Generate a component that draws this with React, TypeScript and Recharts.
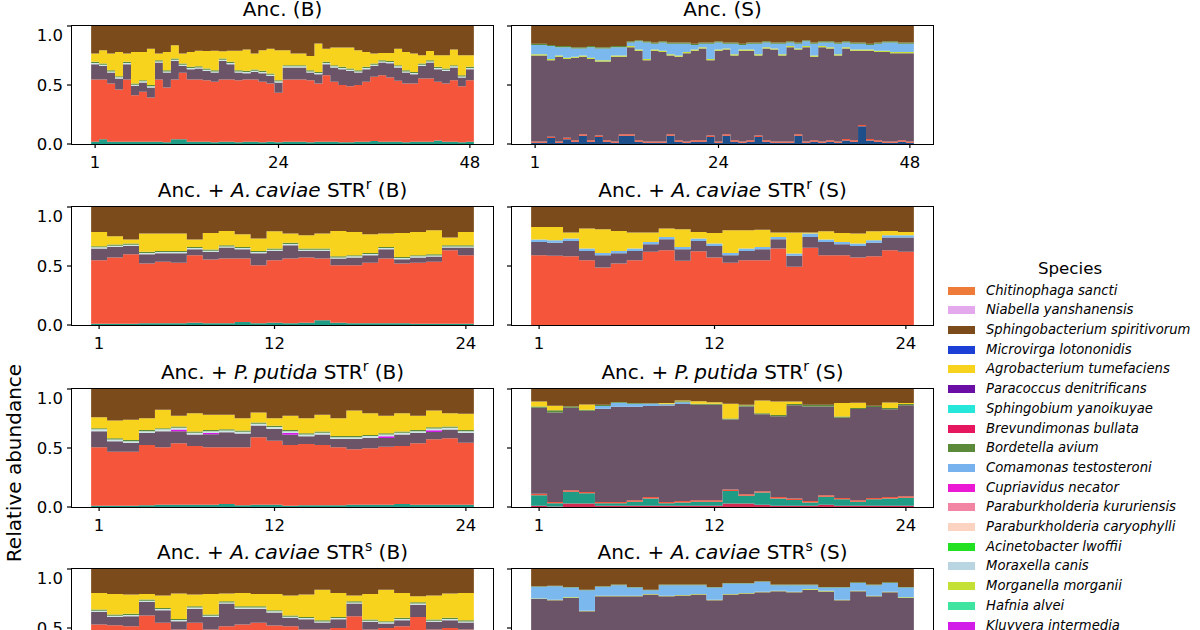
import React from "react";
import { AreaChart, Area, XAxis, YAxis } from "recharts";

const FONT = "'DejaVu Sans', sans-serif";

// legend entries, top to bottom
const SPECIES_NAMES = [
  "Chitinophaga sancti",
  "Niabella yanshanensis",
  "Sphingobacterium spiritivorum",
  "Microvirga lotononidis",
  "Agrobacterium tumefaciens",
  "Paracoccus denitrificans",
  "Sphingobium yanoikuyae",
  "Brevundimonas bullata",
  "Bordetella avium",
  "Comamonas testosteroni",
  "Cupriavidus necator",
  "Paraburkholderia kururiensis",
  "Paraburkholderia caryophylli",
  "Acinetobacter lwoffii",
  "Moraxella canis",
  "Morganella morganii",
  "Hafnia alvei",
  "Kluyvera intermedia",
];
const SPECIES_COLORS = [
  "#ef7b3a", "#e4a9ec", "#7b4b1c", "#1c40d6", "#f8d31e", "#6a0ea6",
  "#27e6da", "#e6175e", "#5b8a3a", "#78b2ee", "#ec19d4", "#f284a4",
  "#fbd3c0", "#22e022", "#b8d5e1", "#c4e034", "#3ee4a0", "#d21ce8",
];

// stacking order, bottom to top
const STACK_KEYS = [
  "otherNavy", "brevundimonas", "otherTeal", "otherRed", "otherMauve",
  "kluyvera", "morganella", "comamonas", "moraxella", "bordetella",
  "agrobacterium", "sphingobacterium",
];
const STACK_COLORS: Record<string, string> = {
  otherNavy: "#1d4f8a",
  brevundimonas: "#d22a52",
  otherTeal: "#1f9c85",
  otherRed: "#f4553b",
  otherMauve: "#6c5468",
  kluyvera: "#d21ce8",
  morganella: "#c8e03a",
  comamonas: "#7ab8ee",
  moraxella: "#cfe6e6",
  bordetella: "#5b8a3a",
  agrobacterium: "#f8d31e",
  sphingobacterium: "#7b4b1c",
};

// ---- Anc. (B), 48 replicates ----
const ancB_teal = [.02, .04, .02, .02, .02, .02, .02, .02, .02, .015, .04, .04, .02, .02, .02, .015, .02, .02, .015, .02, .02, .015, .02, .015, .02, .02, .02, .015, .02, .02, .02, .015, .015, .02, .02, .025, .02, .02, .02, .015, .02, .02, .02, .03, .02, .02, .015, .02];
const ancB_red = [.526, .506, .493, .442, .526, .394, .422, .374, .526, .464, .506, .563, .526, .526, .521, .512, .526, .526, .526, .526, .526, .512, .493, .419, .526, .526, .526, .526, .493, .563, .507, .484, .475, .479, .507, .544, .563, .543, .515, .498, .493, .535, .535, .497, .493, .521, .475, .521];
const ancB_mauve = [.13, .116, .092, .093, .13, .079, .079, .085, .144, .126, .158, .059, .088, .093, .078, .078, .158, .13, .064, .054, .065, .073, .064, .087, .102, .102, .102, .064, .078, .093, .121, .135, .129, .106, .107, .093, .107, .121, .113, .092, .078, .107, .135, .107, .106, .107, .073, .093];
const ancB_bordetella = [.01, .01, .01, .01, .01, .01, .01, .01, .01, .01, .01, .01, .01, .01, .01, .01, .01, .01, .01, .01, .01, .01, .01, .01, .01, .01, .01, .01, .01, .01, .01, .01, .01, .01, .01, .01, .01, .01, .01, .01, .01, .01, .01, .01, .01, .01, .01, .01];
const ancB_moraxella = [.01, .01, .01, .01, .01, .01, .01, .01, .01, .01, .01, .01, .01, .01, .01, .01, .01, .01, .01, .01, .01, .01, .01, .01, .01, .01, .01, .01, .01, .01, .01, .01, .01, .01, .01, .01, .01, .01, .01, .01, .01, .01, .01, .01, .01, .01, .01, .01];
const ancB_agro = [.07, .112, .141, .205, .07, .267, .239, .309, .056, .155, .113, .084, .126, .131, .149, .165, .061, .094, .165, .18, .135, .174, .211, .253, .126, .098, .098, .121, .24, .112, .149, .163, .178, .169, .126, .084, .062, .068, .14, .155, .155, .07, .079, .098, .113, .132, .169, .098];
const ancB_sphingo = [.234, .206, .234, .22, .234, .22, .22, .192, .234, .22, .163, .234, .22, .21, .212, .21, .215, .21, .21, .2, .234, .206, .192, .206, .206, .234, .234, .254, .149, .192, .183, .183, .183, .206, .22, .234, .228, .228, .192, .22, .234, .248, .211, .248, .248, .2, .248, .248];

// ---- Anc. (S), 48 replicates ----
const ancS_navy = [.01, .01, .05, .01, .04, .02, .07, .02, .06, .02, .01, .07, .07, .02, .01, .01, .01, .07, .02, .01, .02, .02, .06, .01, .07, .02, .01, .02, .06, .02, .01, .01, .01, .07, .01, .02, .01, .02, .01, .03, .02, .15, .03, .02, .01, .01, .02, .01];
const ancS_red = [.012, .012, .012, .012, .012, .012, .012, .012, .012, .012, .012, .012, .012, .012, .012, .012, .012, .012, .012, .012, .012, .012, .012, .012, .012, .012, .012, .012, .012, .012, .012, .012, .012, .012, .012, .012, .012, .012, .012, .012, .012, .012, .012, .012, .012, .012, .012, .012];
const ancS_mauve = [.728, .728, .648, .718, .668, .698, .658, .688, .628, .668, .718, .658, .738, .758, .688, .768, .758, .668, .708, .748, .758, .778, .638, .768, .718, .718, .768, .758, .678, .778, .778, .728, .798, .718, .798, .708, .798, .778, .728, .768, .758, .628, .748, .748, .758, .748, .738, .748];
const ancS_morganella = [.01, .01, .01, .01, .01, .01, .01, .01, .01, .01, .01, .01, .01, .01, .01, .01, .01, .01, .01, .01, .01, .01, .01, .01, .01, .01, .01, .01, .01, .01, .01, .01, .01, .01, .01, .01, .01, .01, .01, .01, .01, .01, .01, .01, .01, .01, .01, .01];
const ancS_comamonas = [.08, .08, .11, .07, .09, .07, .06, .09, .1, .1, .07, .07, .03, .07, .14, .05, .07, .09, .1, .07, .04, .03, .13, .06, .04, .09, .04, .05, .09, .04, .04, .09, .03, .04, .04, .1, .03, .04, .09, .04, .05, .05, .04, .06, .07, .08, .07, .07];
const ancS_bordetella = [.01, .01, .01, .01, .01, .01, .01, .01, .01, .01, .01, .01, .01, .01, .01, .01, .01, .01, .01, .01, .01, .01, .01, .01, .01, .01, .01, .01, .01, .01, .01, .01, .01, .01, .01, .01, .01, .01, .01, .01, .01, .01, .01, .01, .01, .01, .01, .01];
const ancS_sphingo = [.15, .15, .16, .17, .17, .18, .18, .17, .18, .18, .17, .17, .13, .12, .13, .14, .13, .14, .14, .14, .15, .14, .14, .13, .14, .14, .15, .14, .14, .13, .14, .14, .13, .14, .12, .14, .13, .13, .14, .13, .14, .14, .15, .14, .13, .13, .14, .14];

// ---- Anc. + A. caviae STRr (B), 24 replicates ----
const acrB_teal = [.01, .01, .01, .015, .015, .015, .02, .015, .015, .025, .015, .02, .015, .02, .04, .02, .015, .015, .015, .015, .01, .01, .01, .01];
const acrB_red = [.539, .562, .59, .506, .52, .512, .572, .54, .548, .538, .492, .529, .548, .552, .523, .487, .492, .512, .548, .506, .517, .525, .624, .582];
const acrB_mauve = [.099, .09, .07, .079, .073, .081, .05, .064, .093, .079, .101, .079, .113, .056, .065, .056, .065, .064, .079, .036, .045, .045, .022, .064];
const acrB_bordetella = [.01, .01, .01, .01, .01, .01, .01, .01, .01, .01, .01, .01, .01, .01, .01, .01, .01, .01, .01, .01, .01, .01, .01, .01];
const acrB_moraxella = [.01, .01, .01, .01, .01, .01, .01, .01, .01, .01, .01, .01, .01, .01, .01, .01, .01, .01, .01, .01, .01, .01, .01, .01];
const acrB_agro = [.121, .07, .034, .155, .147, .147, .062, .141, .121, .107, .104, .146, .079, .113, .127, .214, .197, .158, .113, .203, .197, .203, .065, .113];
const acrB_sphingo = [.211, .248, .276, .225, .225, .225, .276, .22, .203, .231, .268, .206, .225, .239, .225, .203, .211, .231, .225, .22, .211, .197, .259, .211];

// ---- Anc. + A. caviae STRr (S) ----
const acrS_red = [.592, .586, .583, .549, .487, .521, .549, .62, .634, .544, .625, .572, .527, .549, .549, .648, .493, .654, .592, .592, .572, .583, .634, .62];
const acrS_mauve = [.112, .112, .129, .079, .104, .087, .079, .064, .092, .098, .087, .098, .064, .079, .093, .078, .093, .091, .112, .092, .098, .115, .107, .121];
const acrS_comamonas = [.02, .02, .02, .02, .02, .02, .02, .02, .02, .02, .02, .02, .02, .02, .02, .02, .02, .03, .02, .02, .02, .02, .02, .02];
const acrS_agro = [.107, .113, .051, .169, .2, .169, .135, .079, .071, .149, .057, .09, .192, .155, .146, .037, .177, .008, .07, .076, .085, .076, .036, .028];
const acrS_sphingo = [.169, .169, .217, .183, .189, .203, .217, .217, .183, .189, .211, .22, .197, .197, .192, .217, .217, .217, .206, .22, .225, .206, .203, .211];

// ---- Anc. + P. putida STRr (B) ----
const ppB_teal = [.01, .01, .01, .015, .02, .02, .02, .02, .025, .015, .02, .02, .01, .015, .015, .015, .02, .02, .02, .025, .02, .02, .02, .02];
const ppB_red = [.496, .459, .459, .511, .486, .52, .497, .486, .481, .491, .571, .542, .516, .519, .511, .491, .469, .477, .491, .492, .52, .554, .562, .525];
const ppB_mauve = [.137, .088, .074, .102, .137, .102, .097, .11, .128, .117, .1, .101, .087, .066, .088, .071, .088, .089, .074, .097, .088, .062, .075, .083];
const ppB_kluyvera = [0, 0, 0, 0, 0, .015, 0, .012, 0, 0, 0, 0, .015, 0, 0, 0, 0, 0, .015, 0, 0, .015, 0, 0];
const ppB_bordetella = [.01, .01, .01, .01, .01, .01, .01, .01, .01, .01, .01, .01, .01, .01, .01, .01, .01, .01, .01, .01, .01, .01, .01, .01];
const ppB_moraxella = [.015, .015, .015, .015, .015, .015, .015, .015, .015, .015, .015, .015, .015, .015, .015, .015, .015, .015, .015, .015, .015, .015, .015, .015];
const ppB_agro = [.093, .151, .171, .1, .156, .091, .156, .128, .122, .105, .085, .065, .12, .128, .142, .151, .216, .184, .148, .156, .12, .142, .113, .137];
const ppB_sphingo = [.239, .267, .261, .247, .176, .227, .205, .219, .219, .247, .199, .247, .227, .247, .219, .247, .182, .205, .227, .205, .227, .182, .205, .21];

// ---- Anc. + P. putida STRr (S) ----
const ppS_brev = [.01, .005, .03, .03, .01, .01, .01, .01, .01, .01, .01, .01, .03, .03, .02, .01, .01, .01, .02, .01, .01, .01, .01, .01];
const ppS_teal = [.09, .026, .1, .086, .021, .021, .035, .063, .021, .029, .035, .035, .106, .066, .102, .063, .049, .029, .067, .055, .035, .055, .063, .069];
const ppS_red = [.012, .012, .012, .012, .012, .012, .012, .012, .012, .012, .012, .012, .012, .012, .012, .012, .012, .012, .012, .012, .012, .012, .012, .012];
const ppS_mauve = [.73, .757, .7, .687, .789, .807, .793, .77, .817, .821, .809, .809, .593, .744, .651, .685, .791, .801, .753, .679, .773, .771, .743, .771];
const ppS_comamonas = [0, 0, 0, 0, .024, .034, .026, .02, .01, .015, 0, 0, 0, 0, 0, 0, 0, 0, 0, 0, 0, 0, 0, 0];
const ppS_bordetella = [.01, .02, .01, .01, .01, .005, .005, .005, .005, .01, .01, .01, .01, .01, .01, .01, .01, .014, .014, .01, .01, .01, .01, .01];
const ppS_agro = [.043, .038, 0, .044, 0, 0, 0, 0, .006, .006, .02, .012, .124, .004, .108, .114, .023, 0, 0, .115, .043, 0, .047, .01];
const ppS_sphingo = [.105, .142, .148, .131, .134, .111, .119, .12, .119, .097, .104, .112, .125, .134, .097, .105, .105, .134, .134, .119, .117, .142, .115, .118];

// ---- Anc. + A. caviae STRs (B) ----
const acsB_teal = [.02, .02, .02, .02, .02, .02, .02, .02, .02, .02, .02, .02, .02, .02, .02, .02, .02, .02, .02, .02, .02, .02, .02, .02];
const acsB_red = [.51, .504, .495, .586, .524, .467, .524, .467, .495, .51, .524, .501, .495, .467, .467, .481, .58, .467, .481, .495, .574, .467, .481, .467];
const acsB_mauve = [.106, .07, .085, .115, .106, .07, .12, .107, .192, .134, .12, .11, .071, .087, .059, .073, .107, .065, .037, .051, .104, .065, .065, .059];
const acsB_bordetella = [.01, .01, .01, .01, .01, .01, .01, .01, .01, .01, .01, .01, .01, .01, .01, .01, .01, .01, .01, .01, .01, .01, .01, .01];
const acsB_moraxella = [.01, .01, .01, .01, .01, .01, .01, .01, .01, .01, .01, .01, .01, .01, .01, .01, .01, .01, .01, .01, .01, .01, .01, .01];
const acsB_agro = [.141, .175, .163, .048, .105, .215, .099, .175, .065, .113, .105, .138, .169, .189, .259, .203, .048, .217, .267, .211, .051, .203, .206, .231];
const acsB_sphingo = [.203, .211, .217, .211, .225, .208, .217, .211, .208, .203, .211, .211, .225, .217, .175, .203, .225, .211, .175, .203, .231, .225, .208, .203];

// ---- Anc. + A. caviae STRs (S) ----
const acsS_navy = [.02, .02, .02, .02, .02, .02, .02, .02, .02, .02, .02, .02, .02, .02, .02, .02, .02, .02, .02, .02, .02, .02, .02, .02];
const acsS_red = [.01, .01, .01, .01, .01, .01, .01, .01, .01, .01, .01, .01, .01, .01, .01, .01, .01, .01, .01, .01, .01, .01, .01, .01];
const acsS_mauve = [.716, .705, .725, .612, .739, .739, .739, .753, .739, .745, .753, .705, .753, .762, .773, .781, .773, .795, .78, .705, .781, .739, .773, .725];
const acsS_morganella = [.005, .005, .005, .005, .005, .005, .005, .005, .005, .005, .005, .005, .005, .005, .005, .005, .005, .005, .005, .005, .005, .005, .005, .005];
const acsS_comamonas = [.098, .114, .083, .173, .075, .089, .069, .032, .089, .083, .075, .103, .089, .08, .083, .047, .055, .033, .028, .103, .066, .089, .074, .083];
const acsS_bordetella = [.005, .005, .005, .005, .005, .005, .005, .005, .005, .005, .005, .005, .005, .005, .005, .005, .005, .005, .005, .005, .005, .005, .005, .005];
const acsS_sphingo = [.146, .141, .152, .175, .146, .132, .152, .175, .132, .132, .132, .152, .118, .118, .104, .132, .132, .132, .152, .152, .113, .132, .113, .152];

// panel geometry
const FRAME_W = 421;
const FRAME_H = 118;
const YW = 60;
const XH = 32;
const COL_LEFT = [72, 512];
const ROW_TOP = [26, 207, 389, 569];
const LINE_W = 1.2;

type Layers = Record<string, number[]>;

function Sup({ children }: { children: React.ReactNode }) {
  return (
    <span style={{ fontSize: "0.7em", position: "relative", top: "-0.55em" }}>
      {children}
    </span>
  );
}

function strTitle(genus: string, sup: string, side: string) {
  return (
    <>
      Anc. + <i>{genus}</i> STR<Sup>{sup}</Sup> ({side})
    </>
  );
}

const PANELS: { title: React.ReactNode; row: number; col: number; layers: Layers }[] = [
  {
    title: "Anc. (B)", row: 0, col: 0,
    layers: { otherTeal: ancB_teal, otherRed: ancB_red, otherMauve: ancB_mauve, moraxella: ancB_moraxella, bordetella: ancB_bordetella, agrobacterium: ancB_agro, sphingobacterium: ancB_sphingo },
  },
  {
    title: "Anc. (S)", row: 0, col: 1,
    layers: { otherNavy: ancS_navy, otherRed: ancS_red, otherMauve: ancS_mauve, morganella: ancS_morganella, comamonas: ancS_comamonas, bordetella: ancS_bordetella, sphingobacterium: ancS_sphingo },
  },
  {
    title: strTitle("A.\u2009caviae", "r", "B"), row: 1, col: 0,
    layers: { otherTeal: acrB_teal, otherRed: acrB_red, otherMauve: acrB_mauve, moraxella: acrB_moraxella, bordetella: acrB_bordetella, agrobacterium: acrB_agro, sphingobacterium: acrB_sphingo },
  },
  {
    title: strTitle("A.\u2009caviae", "r", "S"), row: 1, col: 1,
    layers: { otherRed: acrS_red, otherMauve: acrS_mauve, comamonas: acrS_comamonas, agrobacterium: acrS_agro, sphingobacterium: acrS_sphingo },
  },
  {
    title: strTitle("P.\u2009putida", "r", "B"), row: 2, col: 0,
    layers: { otherTeal: ppB_teal, otherRed: ppB_red, otherMauve: ppB_mauve, kluyvera: ppB_kluyvera, moraxella: ppB_moraxella, bordetella: ppB_bordetella, agrobacterium: ppB_agro, sphingobacterium: ppB_sphingo },
  },
  {
    title: strTitle("P.\u2009putida", "r", "S"), row: 2, col: 1,
    layers: { brevundimonas: ppS_brev, otherTeal: ppS_teal, otherRed: ppS_red, otherMauve: ppS_mauve, comamonas: ppS_comamonas, bordetella: ppS_bordetella, agrobacterium: ppS_agro, sphingobacterium: ppS_sphingo },
  },
  {
    title: strTitle("A.\u2009caviae", "s", "B"), row: 3, col: 0,
    layers: { otherTeal: acsB_teal, otherRed: acsB_red, otherMauve: acsB_mauve, moraxella: acsB_moraxella, bordetella: acsB_bordetella, agrobacterium: acsB_agro, sphingobacterium: acsB_sphingo },
  },
  {
    title: strTitle("A.\u2009caviae", "s", "S"), row: 3, col: 1,
    layers: { otherNavy: acsS_navy, otherRed: acsS_red, otherMauve: acsS_mauve, morganella: acsS_morganella, comamonas: acsS_comamonas, bordetella: acsS_bordetella, sphingobacterium: acsS_sphingo },
  },
];

// one row per replicate edge; the extra last row closes the final step
function buildRows(layers: Layers, n: number) {
  const rows: Record<string, number>[] = [];
  for (let i = 0; i <= n; i++) {
    const src = Math.min(i, n - 1);
    const row: Record<string, number> = { x: i + 0.5 };
    for (const k of STACK_KEYS) row[k] = layers[k] ? layers[k][src] : 0;
    rows.push(row);
  }
  return rows;
}

const tickLineStyle = { stroke: "#000", strokeWidth: LINE_W };
const tickStyle = { fill: "#000", fontSize: 16.5, fontFamily: FONT };

function Panel({ title, row, col, layers }: { title: React.ReactNode; row: number; col: number; layers: Layers }) {
  const left = COL_LEFT[col];
  const top = ROW_TOP[row];
  const n = Object.values(layers)[0].length;
  const rows = buildRows(layers, n);
  const pad = n * 0.05;
  const domain: [number, number] = [0.5 - pad, n + 0.5 + pad];
  const xTicks = n === 48 ? [1, 24, 48] : [1, 12, 24];
  const keys = STACK_KEYS.filter((k) => layers[k]);

  return (
    <>
      <div
        style={{
          position: "absolute",
          left,
          top: top - 27,
          width: FRAME_W,
          textAlign: "center",
          fontSize: 20,
          lineHeight: "20px",
          whiteSpace: "nowrap",
        }}
      >
        {title}
      </div>
      <div style={{ position: "absolute", left: left - YW, top: top - 1 }}>
        <AreaChart
          width={YW + FRAME_W + 1}
          height={FRAME_H + 1 + XH}
          data={rows}
          margin={{ top: 1, right: 1, bottom: 0, left: 0 }}
        >
          <XAxis
            dataKey="x"
            type="number"
            domain={domain}
            allowDataOverflow
            ticks={xTicks}
            height={XH}
            axisLine={false}
            tickLine={tickLineStyle}
            tickSize={4}
            tickMargin={8}
            tick={tickStyle}
          />
          <YAxis
            type="number"
            domain={[0, 1]}
            allowDataOverflow
            ticks={[0, 0.5, 1]}
            width={YW}
            axisLine={false}
            tickLine={tickLineStyle}
            tickSize={5}
            tickMargin={4}
            tick={tickStyle}
            tickFormatter={(v: number) => (col === 0 ? v.toFixed(1) : "")}
          />
          {keys.map((k) => (
            <Area
              key={k}
              dataKey={k}
              stackId="s"
              type="stepAfter"
              stroke="none"
              fill={STACK_COLORS[k]}
              fillOpacity={1}
              dot={false}
              activeDot={false}
              isAnimationActive={false}
            />
          ))}
        </AreaChart>
      </div>
      {/* axes frame on all four sides */}
      <div
        style={{
          position: "absolute",
          left: left - LINE_W / 2,
          top: top - LINE_W / 2,
          width: FRAME_W + LINE_W,
          height: FRAME_H + LINE_W,
          border: `${LINE_W}px solid #000`,
          boxSizing: "border-box",
          pointerEvents: "none",
        }}
      />
    </>
  );
}

function Legend() {
  return (
    <>
      <div
        style={{
          position: "absolute",
          left: 970,
          top: 258,
          width: 200,
          textAlign: "center",
          fontSize: 16.7,
          lineHeight: "20px",
        }}
      >
        Species
      </div>
      {SPECIES_NAMES.map((name, i) => {
        const y = 280.6 + i * 19.7;
        return (
          <React.Fragment key={name}>
            <div
              style={{
                position: "absolute",
                left: 948,
                top: y + 6,
                width: 27,
                height: 8,
                background: SPECIES_COLORS[i],
              }}
            />
            <div
              style={{
                position: "absolute",
                left: 986,
                top: y,
                fontSize: 13.2,
                lineHeight: "19.7px",
                fontStyle: "italic",
                whiteSpace: "nowrap",
              }}
            >
              {name}
            </div>
          </React.Fragment>
        );
      })}
    </>
  );
}

export default function App() {
  return (
    <div
      style={{
        position: "absolute",
        left: 0,
        top: 0,
        width: 1200,
        height: 630,
        overflow: "hidden",
        background: "#fff",
        fontFamily: FONT,
        color: "#000",
      }}
    >
      {PANELS.map((p, i) => (
        <Panel key={i} {...p} />
      ))}
      <div
        style={{
          position: "absolute",
          left: 14,
          top: 463,
          transform: "translate(-50%, -50%) rotate(-90deg)",
          fontSize: 20,
          whiteSpace: "nowrap",
        }}
      >
        Relative abundance
      </div>
      <Legend />
    </div>
  );
}
